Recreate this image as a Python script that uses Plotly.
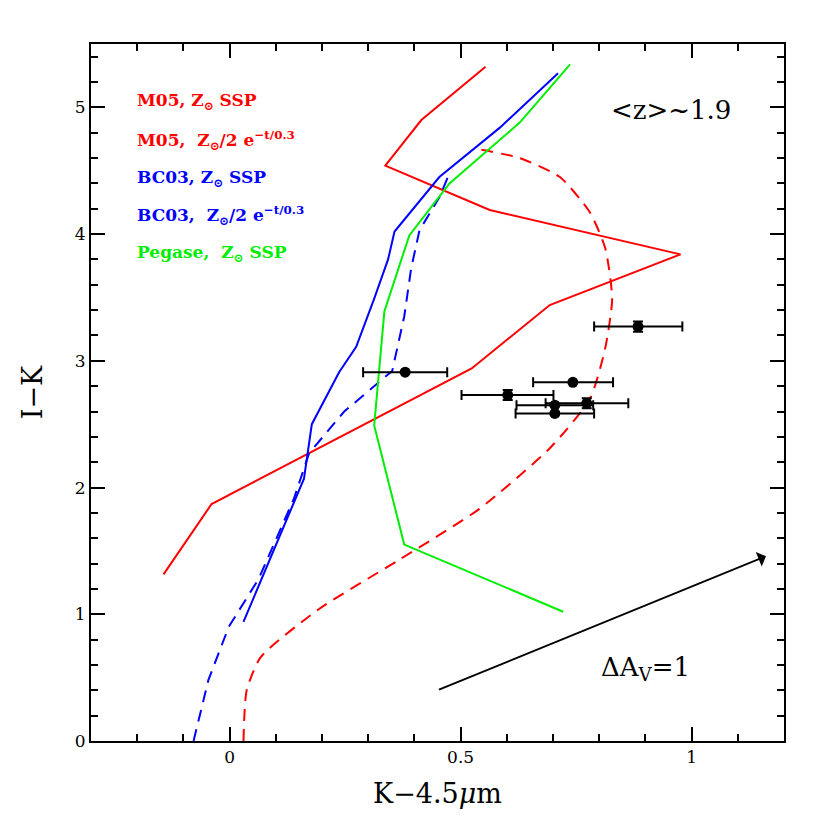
import plotly.graph_objects as go

# M05, Zsun SSP (red solid)
m05_ssp_x = [-0.143, -0.039, 0.524, 0.693, 0.976, 0.563, 0.337, 0.415, 0.554]
m05_ssp_y = [1.315, 1.87, 2.94, 3.44, 3.84, 4.19, 4.54, 4.90, 5.32]

# M05, Zsun/2 exp (red dashed)
m05_tau_x = [0.030, 0.037, 0.067, 0.193, 0.367, 0.540, 0.693, 0.780, 0.813, 0.828, 0.813, 0.780, 0.715, 0.628, 0.537]
m05_tau_y = [0.00, 0.40, 0.66, 1.04, 1.43, 1.83, 2.31, 2.70, 3.10, 3.49, 3.89, 4.17, 4.45, 4.60, 4.67]

# BC03, Zsun SSP (blue solid)
bc03_ssp_x = [0.030, 0.161, 0.178, 0.237, 0.274, 0.313, 0.343, 0.357, 0.454, 0.585, 0.711]
bc03_ssp_y = [0.94, 2.07, 2.50, 2.91, 3.11, 3.49, 3.80, 4.02, 4.45, 4.84, 5.27]

# BC03, Zsun/2 exp (blue dashed)
bc03_tau_x = [-0.078, -0.046, -0.002, 0.063, 0.139, 0.172, 0.248, 0.352, 0.378, 0.393, 0.411, 0.454, 0.476]
bc03_tau_y = [0.00, 0.48, 0.90, 1.28, 1.91, 2.27, 2.60, 2.92, 3.35, 3.73, 4.03, 4.29, 4.48]

# Pegase, Zsun SSP (green)
peg_x = [0.722, 0.378, 0.313, 0.335, 0.389, 0.476, 0.628, 0.737]
peg_y = [1.02, 1.55, 2.49, 3.39, 3.99, 4.40, 4.88, 5.34]

# Observed galaxies
obs_x = [0.380, 0.884, 0.743, 0.602, 0.773, 0.704, 0.704]
obs_y = [2.91, 3.27, 2.83, 2.73, 2.665, 2.65, 2.585]
obs_xlo = [0.289, 0.789, 0.657, 0.502, 0.684, 0.621, 0.619]
obs_xhi = [0.471, 0.980, 0.830, 0.701, 0.863, 0.787, 0.789]
obs_yerr = [0.0, 0.04, 0.0, 0.04, 0.04, 0.0, 0.0]

# Reddening vector
arrow_x = [0.45, 1.161]
arrow_y = [0.40, 1.458]

legend_labels = [
    "M05, Z<sub>⊙</sub> SSP",
    "M05,  Z<sub>⊙</sub>/2 e<sup>−t/0.3</sup>",
    "BC03, Z<sub>⊙</sub> SSP",
    "BC03,  Z<sub>⊙</sub>/2 e<sup>−t/0.3</sup>",
    "Pegase,  Z<sub>⊙</sub> SSP",
]
legend_colors = ["#ff0000", "#ff0000", "#0000ff", "#0000ff", "#00ee00"]
legend_y = [5.05, 4.74, 4.44, 4.15, 3.85]

RED, BLUE, GREEN = "#ff0000", "#0000ff", "#00ee00"

fig = go.Figure()
fig.add_trace(go.Scatter(x=m05_ssp_x, y=m05_ssp_y, mode="lines", line=dict(color=RED, width=2)))
fig.add_trace(go.Scatter(x=m05_tau_x, y=m05_tau_y, mode="lines", line=dict(color=RED, width=2, dash="12px,8px", shape="spline", smoothing=0.6)))
fig.add_trace(go.Scatter(x=bc03_ssp_x, y=bc03_ssp_y, mode="lines", line=dict(color=BLUE, width=2)))
fig.add_trace(go.Scatter(x=bc03_tau_x, y=bc03_tau_y, mode="lines", line=dict(color=BLUE, width=2, dash="12px,8px")))
fig.add_trace(go.Scatter(x=peg_x, y=peg_y, mode="lines", line=dict(color=GREEN, width=2)))

fig.add_trace(go.Scatter(
    x=obs_x, y=obs_y, mode="markers",
    marker=dict(color="black", size=11),
    error_x=dict(type="data", symmetric=False,
                 array=[h - x for h, x in zip(obs_xhi, obs_x)],
                 arrayminus=[x - l for l, x in zip(obs_xlo, obs_x)],
                 color="black", thickness=2, width=5),
    error_y=dict(type="data", array=obs_yerr, color="black", thickness=2, width=5),
))

fig.add_annotation(x=arrow_x[1], y=arrow_y[1], ax=arrow_x[0], ay=arrow_y[0],
                   xref="x", yref="y", axref="x", ayref="y", text="",
                   showarrow=True, arrowhead=1, arrowsize=1.3, arrowwidth=2, arrowcolor="black")

for lab, col, yy in zip(legend_labels, legend_colors, legend_y):
    fig.add_annotation(x=-0.205, y=yy, xref="x", yref="y", text="<b>" + lab + "</b>",
                       showarrow=False, xanchor="left", yanchor="middle",
                       font=dict(family="DejaVu Serif", size=17, color=col))

fig.add_annotation(x=0.955, y=4.98, xref="x", yref="y", text="&lt;z&gt;~1.9", showarrow=False,
                   font=dict(family="DejaVu Serif", size=26, color="black"))
fig.add_annotation(x=0.90, y=0.57, xref="x", yref="y", text="ΔA<sub>V</sub>=1", showarrow=False,
                   font=dict(family="DejaVu Serif", size=26, color="black"))

axis_common = dict(showgrid=False, zeroline=False, showline=True, linecolor="black", linewidth=2,
                   mirror="allticks", ticks="inside", ticklen=14, tickwidth=1.5, tickcolor="black",
                   tickfont=dict(family="DejaVu Serif", size=17, color="black"))
fig.update_xaxes(range=[-0.3, 1.2], tick0=0, dtick=0.5,
                 minor=dict(dtick=0.1, ticks="inside", ticklen=7, tickwidth=1.5, tickcolor="black"),
                 title=dict(text="K−4.5<i>μ</i>m", font=dict(family="DejaVu Serif", size=27, color="black"), standoff=18),
                 **axis_common)
fig.update_yaxes(range=[0, 5.5], tick0=0, dtick=1,
                 minor=dict(dtick=0.2, ticks="inside", ticklen=7, tickwidth=1.5, tickcolor="black"),
                 title=dict(text="I−K", font=dict(family="DejaVu Serif", size=27, color="black"), standoff=24),
                 **axis_common)
fig.update_layout(width=830, height=830, showlegend=False,
                  margin=dict(l=83, r=54, t=36, b=97),
                  plot_bgcolor="white", paper_bgcolor="white")
fig.write_html("out.html")
